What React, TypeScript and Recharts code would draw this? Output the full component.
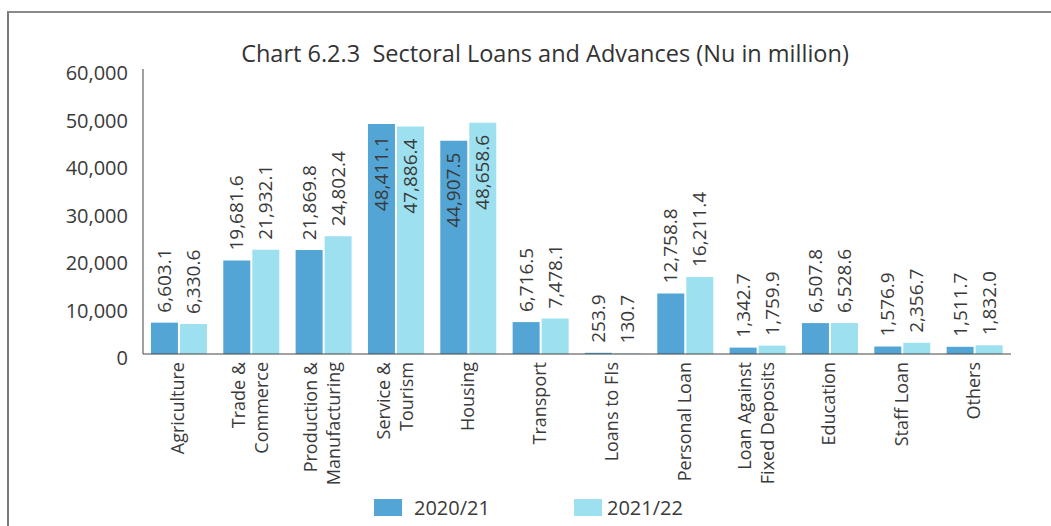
import { Bar, BarChart, Legend, XAxis, YAxis } from "recharts";

const categories = [
  "Agriculture",
  "Trade &\nCommerce",
  "Production &\nManufacturing",
  "Service &\nTourism",
  "Housing",
  "Transport",
  "Loans to FIs",
  "Personal Loan",
  "Loan Against\nFixed Deposits",
  "Education",
  "Staff Loan",
  "Others",
];
const fy2021 = [6603.1, 19681.6, 21869.8, 48411.1, 44907.5, 6716.5, 253.9, 12758.8, 1342.7, 6507.8, 1576.9, 1511.7];
const fy2122 = [6330.6, 21932.1, 24802.4, 47886.4, 48658.6, 7478.1, 130.7, 16211.4, 1759.9, 6528.6, 2356.7, 1832.0];
const yTicks = [0, 10000, 20000, 30000, 40000, 50000, 60000];

const series = [
  { key: "fy2021", name: "2020/21", color: "#52A5D4" },
  { key: "fy2122", name: "2021/22", color: "#9DE0EF" },
];

const data = categories.map((name, i) => ({ name, fy2021: fy2021[i], fy2122: fy2122[i] }));

const font = "'Open Sans', sans-serif";
const ink = "#3a3a3a";
const fmt = (v: number) => v.toLocaleString("en-US", { minimumFractionDigits: 1, maximumFractionDigits: 1 });

function ValueLabel(props: any) {
  const { x, y, width, value } = props;
  const cx = x + width / 2;
  const inside = value > 40000;
  const ty = inside ? y + 12 : y - 10;
  return (
    <text
      x={cx}
      y={ty}
      dy="0.35em"
      transform={`rotate(-90 ${cx} ${ty})`}
      textAnchor={inside ? "end" : "start"}
      fontFamily={font}
      fontSize={19}
      fill={ink}
    >
      {fmt(value)}
    </text>
  );
}

function CategoryTick({ x, y, payload }: any) {
  const lines = String(payload.value).split("\n");
  return (
    <g>
      {lines.map((line, i) => {
        const lx = x + 5 + (i - (lines.length - 1) / 2) * 23;
        return (
          <text key={i} x={lx} y={y} transform={`rotate(-90 ${lx} ${y})`} textAnchor="end" fontFamily={font} fontSize={18} fill={ink}>
            {line}
          </text>
        );
      })}
    </g>
  );
}

function LegendBox() {
  const spots = [374, 574];
  return (
    <div style={{ position: "relative", height: 30, fontFamily: font, fontSize: 20, color: ink }}>
      {series.map((s, i) => (
        <div key={s.key} style={{ position: "absolute", left: spots[i], top: 0, display: "flex", alignItems: "center", height: 30 }}>
          <span style={{ display: "inline-block", width: 28, height: 17, background: s.color, marginRight: i === 0 ? 12 : 5 }} />
          <span>{s.name}</span>
        </div>
      ))}
    </div>
  );
}

export default function App() {
  return (
    <div style={{ position: "absolute", left: 0, top: 0, width: 1051, height: 526, overflow: "hidden", background: "#fff" }}>
      <div style={{ position: "absolute", left: 7, top: 11, width: 1100, height: 600, borderLeft: "2px solid #7a7a7a", borderTop: "2px solid #8a8a8a" }} />
      <div style={{ position: "absolute", left: 0, width: 1090, top: 37, textAlign: "center", fontFamily: font, fontSize: 23.5, color: "#333" }}>
        Chart 6.2.3&nbsp;&nbsp;Sectoral Loans and Advances (Nu in million)
      </div>
      <BarChart
        width={1051}
        height={526}
        data={data}
        margin={{ top: 69, right: 40, bottom: 0, left: 0 }}
        barCategoryGap="11%"
        barGap={2}
        style={{ position: "absolute", left: 0, top: 0 }}
      >
        <XAxis dataKey="name" height={172} interval={0} tick={<CategoryTick />} tickLine={false} stroke="#444" />
        <YAxis
          width={143}
          domain={[0, 60000]}
          ticks={yTicks}
          tickLine={false}
          tickMargin={9}
          stroke="#444"
          tickFormatter={(v: number) => v.toLocaleString("en-US")}
          tick={{ fill: ink, fontSize: 20, fontFamily: font, dy: 4 }}
        />
        <Legend layout="horizontal" verticalAlign="middle" align="center" wrapperStyle={{ left: 0, top: 492, width: 1051 }} content={<LegendBox />} />
        {series.map((s) => (
          <Bar key={s.key} dataKey={s.key} name={s.name} fill={s.color} isAnimationActive={false} label={<ValueLabel />} />
        ))}
      </BarChart>
    </div>
  );
}
